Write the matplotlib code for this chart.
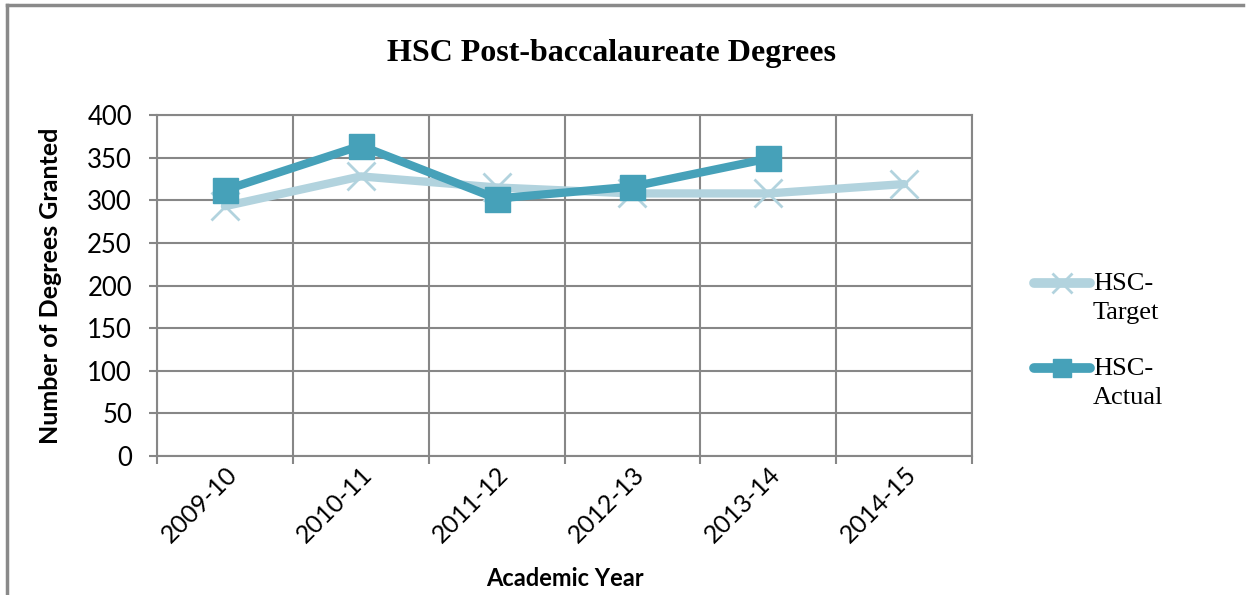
import numpy as np
import matplotlib.pyplot as plt
from matplotlib.lines import Line2D

years = ['2009-10', '2010-11', '2011-12', '2012-13', '2013-14', '2014-15']
target = [293, 328, 315, 308, 308, 319]
actual = [312, 364, 302, 316, 349]

target_color = '#B2D3DE'
actual_color = '#46A1B9'
grid_color = '#878787'

fig = plt.figure(figsize=(12.47, 5.95), dpi=100)
ax = fig.add_axes([0.1259, 0.2336, 0.6536, 0.5731])

x = np.arange(len(years))
ax.plot(x, target, color=target_color, lw=6, marker='x', markersize=20,
        markeredgewidth=2, solid_capstyle='round', zorder=3)
ax.plot(x[:len(actual)], actual, color=actual_color, lw=6, marker='s', markersize=18,
        solid_capstyle='round', zorder=4)

ax.set_xlim(-0.5, len(years) - 0.5)
ax.set_ylim(0, 400)
ax.set_yticks(np.arange(0, 401, 50))
ax.set_xticks(x)
ax.set_xticks(np.arange(-0.5, len(years), 1), minor=True)
ax.set_xticklabels(years, rotation=45, ha='right', rotation_mode='anchor',
                   fontsize=18, family='Lato')
ax.tick_params(axis='x', which='major', length=0, pad=5)
ax.tick_params(axis='x', which='minor', length=6, color=grid_color, width=1.5)
ax.tick_params(axis='y', length=6, color=grid_color, width=1.5, labelsize=18.5, pad=12)
for lab in ax.get_yticklabels():
    lab.set_family('Lato')

ax.grid(True, axis='y', color=grid_color, lw=1.5)
ax.grid(True, axis='x', which='minor', color=grid_color, lw=1.5)
for s in ax.spines.values():
    s.set_color(grid_color)
    s.set_linewidth(1.5)

ax.set_xlabel('Academic Year', fontsize=17, fontweight='bold', family='Lato', labelpad=14)
ax.set_ylabel('Number of Degrees Granted', fontsize=18, fontweight='bold', family='Lato', labelpad=18)

fig.suptitle('HSC Post-baccalaureate Degrees', x=0.49, y=0.935, fontsize=23,
             fontweight='bold', family='Liberation Serif')

# legend drawn by hand: handle sits on the first text line, like the original
legend_items = [
    ('HSC-\nTarget', target_color, dict(marker='x', markersize=14, markeredgewidth=2), 283),
    ('HSC-\nActual', actual_color, dict(marker='s', markersize=13), 368),
]
for label, color, mk, ypix in legend_items:
    yf = 1 - ypix / 595
    fig.add_artist(Line2D([1034 / 1247, 1090 / 1247], [yf, yf], color=color, lw=7,
                          solid_capstyle='round'))
    fig.add_artist(Line2D([1062 / 1247], [yf], color=color, linestyle='none', **mk))
    fig.text(1093 / 1247, yf + 10 / 595, label, va='top', ha='left', fontsize=19,
             family='Liberation Serif', linespacing=1.4)

# chart border (top and left)
fig.add_artist(Line2D([0.006, 0.997], [0.992, 0.992], color='#8a8a8a', lw=2.5))
fig.add_artist(Line2D([0.006, 0.006], [0.0, 0.992], color='#8a8a8a', lw=2.5))

fig.savefig('out.png', dpi=100)
